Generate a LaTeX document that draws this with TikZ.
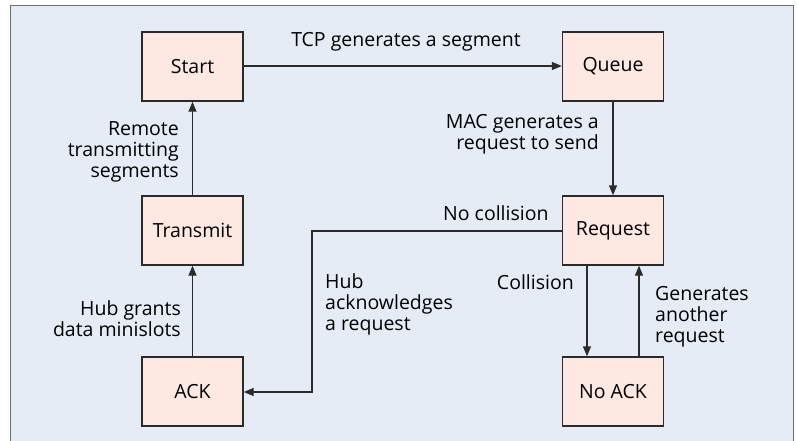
\documentclass[tikz,border=0pt]{standalone}
\usepackage{fontspec}
\setmainfont{Open Sans}
\usetikzlibrary{arrows.meta}
\definecolor{bgblue}{HTML}{E6ECF6}
\definecolor{boxpink}{HTML}{FDE9E2}
\definecolor{framegray}{HTML}{6E6E6E}
\definecolor{linegray}{HTML}{2B2B2B}
\begin{document}
\begin{tikzpicture}[x=1pt,y=-1pt,
  state/.style={draw=linegray,line width=1.4pt,fill=boxpink,minimum width=101pt,minimum height=69pt,inner sep=0pt,font=\fontsize{19.5}{21}\selectfont},
  conn/.style={draw=linegray,line width=1.4pt,-{Triangle[length=10pt,width=8pt]}},
  lbl/.style={font=\fontsize{19.5}{21}\selectfont,inner sep=0pt,text=black}]
\useasboundingbox (0,0) rectangle (797,441);
\begin{scope}
\clip (0,0) rectangle (797,441);
\draw[framegray,line width=1.2pt,fill=bgblue] (10.5,5.5) rectangle (793.5,450);
\end{scope}
\node[state] (start) at (192.5,66.5) {Start};
\node[state] (queue) at (613,66.5) {Queue};
\node[state] (transmit) at (192.5,230.5) {Transmit};
\node[state] (request) at (613,230.5) {Request};
\node[state] (ack) at (192.5,391.5) {ACK};
\node[state] (noack) at (613,391.5) {No ACK};
\coordinate (bend1) at (312,231);
\coordinate (bend2) at (312,392);
\draw[conn] (start.east |- 0,66) -- (queue.west |- 0,66);
\draw[conn] (queue.south) -- (request.north);
\draw[conn] (transmit.north) -- (start.south);
\draw[conn] (ack.north) -- (transmit.south);
\draw[conn] (request.west |- bend1) -- (bend1) -- (bend2) -- (ack.east |- bend2);
\draw[conn] (request.south -| 587,0) -- (noack.north -| 587,0);
\draw[conn] (noack.north -| 639,0) -- (request.south -| 639,0);
\node[lbl,anchor=center] (l1) at (406,42) {TCP generates a segment};
\node[lbl,anchor=east,align=right] (l2) at (179,152) {Remote\\transmitting\\segments};
\node[lbl,anchor=east,align=right] (l3) at (599,134) {MAC generates a\\request to send};
\node[lbl,anchor=west] (l4) at (443,213) {No collision};
\node[lbl,anchor=west,align=left] (l5) at (325,304) {Hub\\acknowledges\\a request};
\node[lbl,anchor=east,align=right] (l6) at (181,319) {Hub grants\\data minislots};
\node[lbl,anchor=east] (l7) at (574,282) {Collision};
\node[lbl,anchor=west,align=left] (l8) at (655,317) {Generates\\another\\request};
\end{tikzpicture}
\end{document}
